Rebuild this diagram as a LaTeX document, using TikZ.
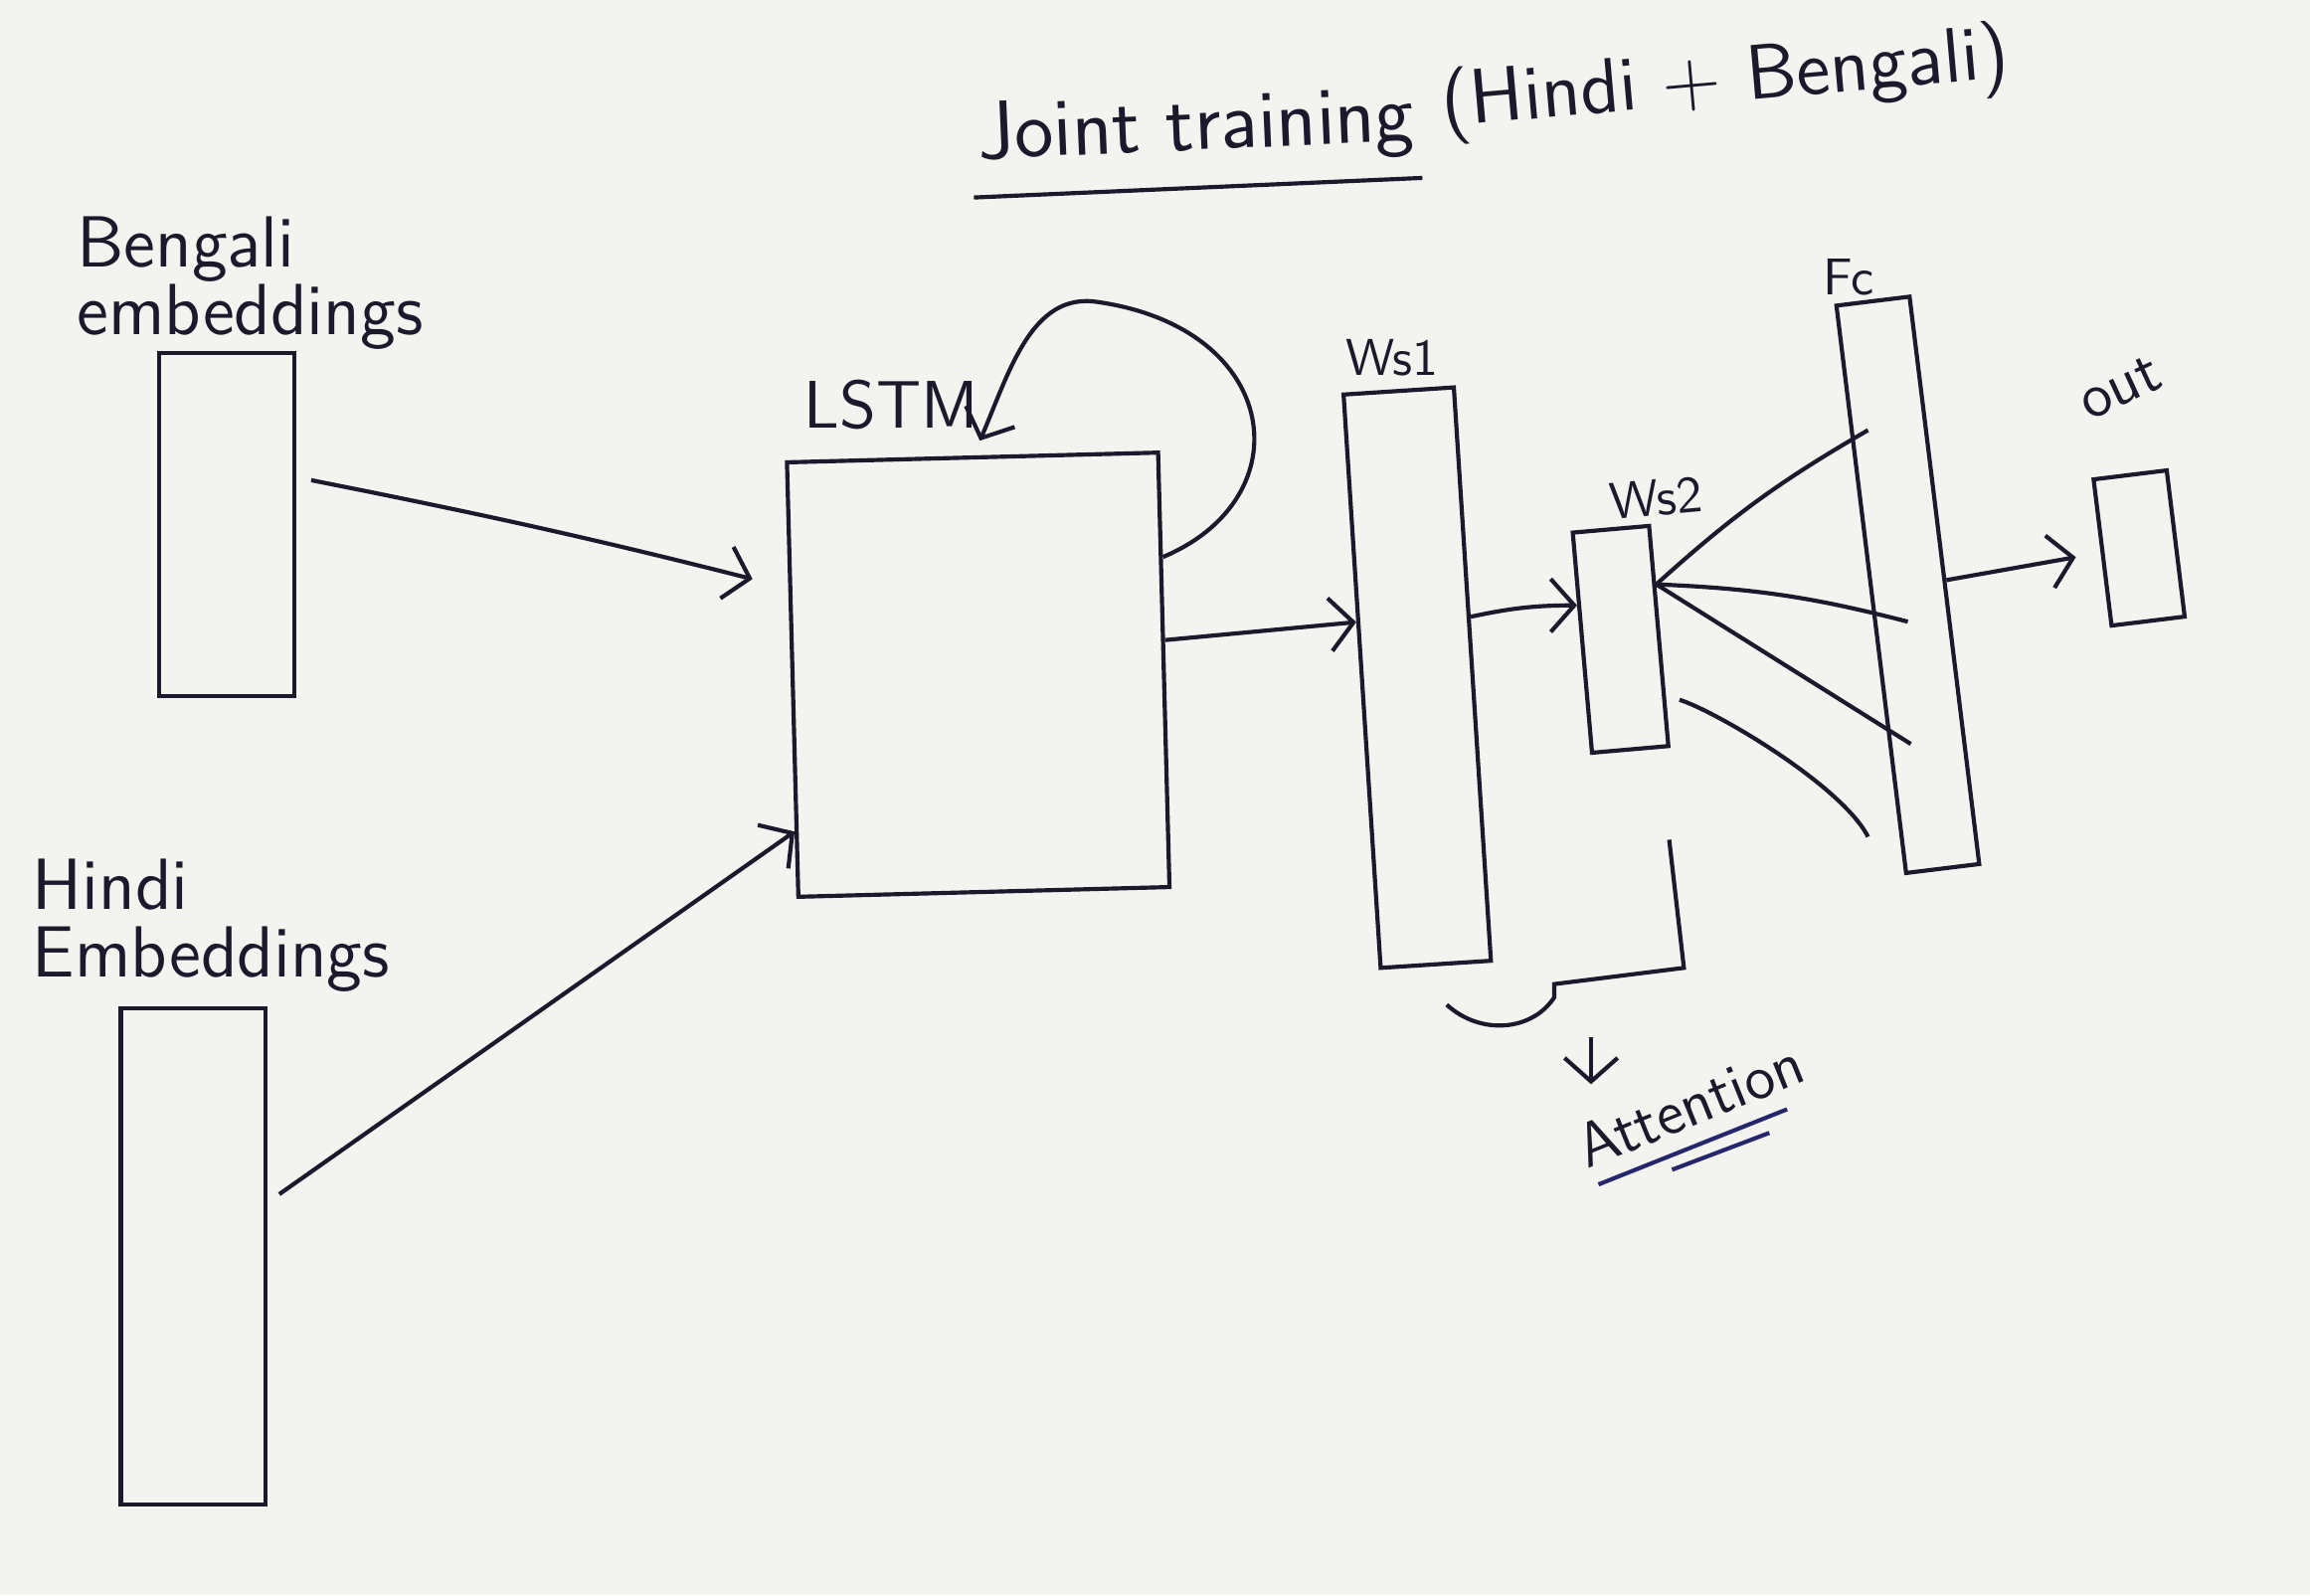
\documentclass[tikz,border=0pt]{standalone}
\usepackage{tikz}
\usetikzlibrary{positioning, arrows.meta}

\definecolor{ink}{RGB}{26,26,44}
\definecolor{pen}{RGB}{38,38,110}
\definecolor{paper}{RGB}{243,243,240}

\tikzset{
  layer/.style={draw=ink, line width=0.8pt, inner sep=0pt},
  wire/.style={draw=ink, line width=0.8pt},
  link/.style={wire, -{Straight Barb[length=1.6mm,width=3.6mm]}},
  hand/.style={text=ink, font=\sffamily\fontsize{14}{13}\selectfont, inner sep=1pt},
  tag/.style={text=ink, font=\sffamily\fontsize{10}{12}\selectfont, inner sep=1pt},
}

\begin{document}
\begin{tikzpicture}
  % paper
  \fill[paper] (0,0) rectangle (15.68,10.83);
  \useasboundingbox (0,0) rectangle (15.68,10.83);

  % title
  \node (joint) at (8.12,9.95) [hand, font=\sffamily\fontsize{16}{18}\selectfont, rotate=2.5] {Joint training};
  \node (langs) [right=1mm of joint, yshift=0.8mm, hand, font=\sffamily\fontsize{15}{18}\selectfont, rotate=5] {(Hindi + Bengali)};
  \draw[wire] ([yshift=-1mm]joint.south west) -- ([yshift=-1mm]joint.south east);

  % embeddings
  \node (bengali) at (1.54,7.27) [layer, minimum width=0.92cm, minimum height=2.33cm] {};
  \node (hindi) at (1.31,2.30) [layer, minimum width=0.98cm, minimum height=3.37cm] {};
  \node (bengalitext) at (0.48,8.91) [hand, anchor=west, align=left] {Bengali\\embeddings};
  \node (hinditext) at (0.18,4.55) [hand, anchor=west, align=left] {Hindi\\Embeddings};

  % lstm with recurrence
  \node (lstm) at (6.64,6.25) [layer, minimum width=2.52cm, minimum height=2.95cm, rotate=1.5] {};
  \node (lstmtext) at (6.05,8.08) [hand, font=\sffamily\fontsize{13}{13}\selectfont] {LSTM};
  \draw[link] (lstm.31) .. controls (8.85,7.45) and (8.7,8.6) .. (7.45,8.78)
    .. controls (7.0,8.85) and (6.85,8.3) .. ([xshift=0.5mm,yshift=1mm]lstm.north);

  % attention layers
  \node (ws1) at (9.62,6.23) [layer, minimum width=0.75cm, minimum height=3.9cm, rotate=3.7] {};
  \node (ws2) at (11.0,6.49) [layer, minimum width=0.52cm, minimum height=1.5cm, rotate=5] {};
  \node (fc) at (12.95,6.86) [layer, minimum width=0.5cm, minimum height=3.88cm, rotate=7] {};
  \node (out) at (14.52,7.11) [layer, minimum width=0.5cm, minimum height=1.0cm, rotate=7] {};
  \node (ws1text) at (9.45,8.40) [tag] {Ws1};
  \node (ws2text) at (11.24,7.45) [tag, rotate=5] {Ws2};
  \node (fctext) at (12.55,8.95) [tag] {Fc};
  \node (outtext) at (14.39,8.2) [tag, font=\sffamily\fontsize{12}{12}\selectfont, rotate=25] {out};

  % forward arrows
  \draw[link, shorten <=1mm, shorten >=2.5mm] (bengali.34) to[bend left=1.5] (lstm.154);
  \draw[link, shorten <=1mm] (hindi.36) -- (lstm.219);
  \draw[link] (lstm.9) -- (ws1.134);
  \draw[link] (ws1.45) to[bend left=6] (ws2.137);
  \draw[link, shorten >=1.7mm] (fc.east) -- (out.west);

  % fc to ws2
  \coordinate (hub) at (ws2.52);
  \coordinate (fc1) at (12.68,7.91);
  \coordinate (fc2) at (12.95,6.61);
  \coordinate (fc3) at (12.97,5.78);
  \coordinate (fc4) at (12.68,5.15);
  \coordinate (ws2low) at (11.40,6.08);
  \draw[wire] (fc1) to[bend right=6] (hub);
  \draw[wire] (hub) to[bend left=6] (fc2);
  \draw[wire] (hub) -- (fc3);
  \draw[wire] (ws2low) .. controls (11.65,6.0) and (12.5,5.5) .. (fc4);

  % brace and attention
  \draw[wire] (11.33,5.13) -- (11.43,4.26) -- (10.55,4.15) -- (10.55,4.06)
    .. controls (10.4,3.83) and (10.05,3.8) .. (9.82,4.01);
  \coordinate (brace) at (10.8,3.79);
  \coordinate (attnin) at (10.8,3.47);
  \draw[link] (brace) -- (attnin);
  \node (attn) at (11.47,3.33) [tag, font=\sffamily\fontsize{12}{12}\selectfont, rotate=22] {Attention};
  \draw[pen, line width=0.8pt] (10.85,2.79) -- (12.13,3.30);
  \draw[pen, line width=0.8pt] (11.35,2.89) -- (12.01,3.14);
\end{tikzpicture}
\end{document}
